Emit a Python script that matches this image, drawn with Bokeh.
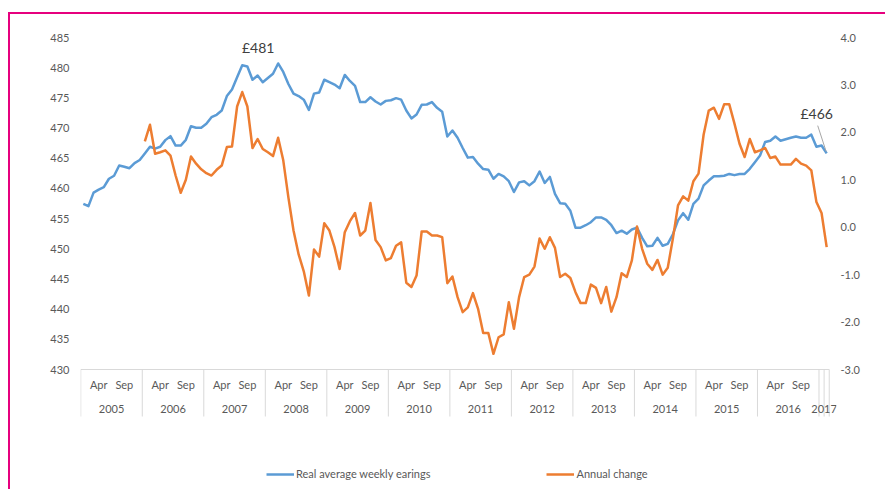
from bokeh.plotting import figure
from bokeh.models import (Range1d, LinearAxis, FixedTicker, NumeralTickFormatter,
                          Legend, LegendItem, Label)
from bokeh.core.properties import value
from bokeh.embed import file_html
from bokeh.resources import INLINE

# ---------------- data ----------------
years = ["2005", "2006", "2007", "2008", "2009", "2010", "2011", "2012",
         "2013", "2014", "2015", "2016", "2017"]
month_labels = ["Apr", "Sep"]          # shown under every full year
month_label_pos = [3, 8]                # month index within a year (Jan = 0)

# Real average weekly earnings (GBP), monthly Jan 2005 - Feb 2017
earnings = [
    457.45, 457.06, 459.3, 459.8, 460.2, 461.6, 462.1, 463.8, 463.6, 463.35, 464.2, 464.7,   # 2005
    465.8, 466.9, 466.6, 466.9, 468.0, 468.65, 467.1, 467.1, 468.05, 470.3, 470.05, 470.05,  # 2006
    470.7, 471.8, 472.2, 472.9, 475.3, 476.4, 478.4, 480.4, 480.2, 478.0, 478.7, 477.6,      # 2007
    478.3, 479.0, 480.7, 479.3, 477.3, 475.7, 475.3, 474.7, 473.0, 475.7, 475.9, 478.0,      # 2008
    477.6, 477.2, 476.6, 478.8, 477.8, 477.0, 474.3, 474.3, 475.1, 474.4, 473.9, 474.5,      # 2009
    474.6, 474.95, 474.7, 472.9, 471.6, 472.25, 473.85, 473.9, 474.3, 473.35, 472.7, 468.6,  # 2010
    469.6, 468.4, 466.7, 465.1, 465.2, 464.1, 463.2, 463.1, 461.6, 462.4, 462.0, 461.2,      # 2011
    459.4, 461.0, 461.2, 460.5, 461.2, 462.8, 460.9, 461.9, 459.1, 457.55, 457.45, 456.3,    # 2012
    453.5, 453.5, 453.9, 454.4, 455.2, 455.2, 454.8, 453.9, 452.6, 453.0, 452.5, 453.2,      # 2013
    453.5, 451.8, 450.4, 450.5, 451.8, 450.5, 450.8, 452.4, 454.7, 455.9, 454.8, 457.45,     # 2014
    458.3, 460.5, 461.3, 462.0, 462.0, 462.1, 462.4, 462.2, 462.4, 462.4, 463.25, 464.35,    # 2015
    465.45, 467.7, 467.9, 468.6, 467.9, 468.15, 468.4, 468.6, 468.4, 468.4, 468.9, 466.9,    # 2016
    467.1, 465.8,                                                                              # 2017
]

# Annual change (%), monthly Jan 2006 - Feb 2017
annual_change = [
    1.81, 2.16, 1.55, 1.58, 1.62, 1.51, 1.09, 0.725, 1.0, 1.49, 1.34, 1.22,           # 2006
    1.14, 1.09, 1.21, 1.30, 1.69, 1.70, 2.545, 2.85, 2.545, 1.67, 1.86, 1.65,         # 2007
    1.58, 1.50, 1.885, 1.41, 0.63, -0.07, -0.575, -0.93, -1.44, -0.47, -0.62, 0.085,  # 2008
    -0.07, -0.42, -0.88, -0.105, 0.127, 0.30, -0.175, -0.07, 0.51, -0.27, -0.42, -0.70,  # 2009
    -0.65, -0.39, -0.32, -1.17, -1.26, -1.02, -0.09, -0.09, -0.175, -0.175, -0.21, -1.18,  # 2010
    -1.04, -1.475, -1.79, -1.69, -1.39, -1.72, -2.23, -2.23, -2.67, -2.32, -2.26, -1.58,  # 2011
    -2.14, -1.475, -1.05, -1.0, -0.83, -0.24, -0.455, -0.21, -0.435, -1.05, -0.98, -1.07,  # 2012
    -1.37, -1.60, -1.60, -1.21, -1.28, -1.60, -1.26, -1.78, -1.475, -0.97, -1.05, -0.70,  # 2013
    0.015, -0.455, -0.77, -0.90, -0.69, -1.00, -0.855, -0.24, 0.46, 0.65, 0.56, 0.97,  # 2014
    1.13, 1.955, 2.46, 2.52, 2.285, 2.59, 2.59, 2.19, 1.76, 1.48, 1.86, 1.58,          # 2015
    1.62, 1.67, 1.46, 1.49, 1.32, 1.32, 1.32, 1.44, 1.34, 1.30, 1.20, 0.53,            # 2016
    0.30, -0.42,                                                                         # 2017
]

left_ticks = [430, 435, 440, 445, 450, 455, 460, 465, 470, 475, 480, 485]
right_ticks = [-3, -2, -1, 0, 1, 2, 3, 4]

series_names = ["Real average weekly earings", "Annual change"]
BLUE = "#5B9BD5"
ORANGE = "#ED7D31"
GREY_TEXT = "#595959"
AXIS_GREY = "#D9D9D9"
FONT = "Lato"

# ---------------- layout constants (pixels) ----------------
SPAN_PX = 332    # distance between lowest and highest value tick
ABOVE_PX = 7     # headroom above the top tick
BELOW_PX = 122   # room under the value axis (category labels + legend)
SEP_PX = 47      # length of category separators
MONTH_PX = 15    # month label centre below axis line
YEAR_PX = 39.5   # year label centre below axis line
CAT_W = 749      # width of the category axis
RIGHT_PAD_PX = 7 # extra frame room right of the category axis (for "2017")

# ---------------- derived positions (month index, Jan 2005 = 0) ----------------
n = len(earnings)
x_earn = list(range(n))
x_change = list(range(n - len(annual_change), n))

full_years = n // 12
month_x = [12 * k + m for k in range(full_years) for m in month_label_pos]
month_text = [lab for k in range(full_years) for lab in month_labels]
year_x = [(12 * k + min(12 * k + 11, n - 1)) / 2.0 for k in range(len(years))]
bounds = [12 * k - 0.5 for k in range(len(years))] + [n - 1.5, n - 0.5]

L0, L1 = left_ticks[0], left_ticks[-1]
R0, R1 = right_ticks[0], right_ticks[-1]
lppx = (L1 - L0) / SPAN_PX       # left units per pixel
rppx = (R1 - R0) / SPAN_PX       # right units per pixel
xppx = (n + 0.1) / CAT_W         # months per pixel
x_start = -0.55
x_end = n - 0.45 + RIGHT_PAD_PX * xppx

p = figure(width=877, height=477, output_backend="svg", toolbar_location=None,
           x_range=Range1d(x_start, x_end),
           y_range=Range1d(L0 - BELOW_PX * lppx, L1 + ABOVE_PX * lppx),
           x_axis_location=None, y_axis_location=None,
           min_border_left=70, min_border_right=58 - RIGHT_PAD_PX, min_border_top=16,
           min_border_bottom=0)
p.extra_y_ranges = {"right": Range1d(R0 - BELOW_PX * rppx, R1 + ABOVE_PX * rppx)}
p.outline_line_color = None
p.background_fill_color = "white"
p.border_fill_color = "white"
p.xgrid.visible = False
p.ygrid.visible = False
p.styles = {"border-left": "2px solid #E6007E", "border-top": "2px solid #E6007E",
            "margin-top": "12px", "margin-left": "8px"}

def style_axis(ax, standoff):
    ax.major_tick_out = 0
    ax.major_tick_in = 0
    ax.minor_tick_out = 0
    ax.minor_tick_in = 0
    ax.axis_line_color = None
    ax.major_label_text_color = GREY_TEXT
    ax.major_label_text_font = FONT
    ax.major_label_text_font_size = "11px"
    ax.major_label_standoff = standoff

ly = LinearAxis(ticker=FixedTicker(ticks=left_ticks))
style_axis(ly, 11)
p.add_layout(ly, "left")

ry = LinearAxis(y_range_name="right", ticker=FixedTicker(ticks=right_ticks),
                formatter=NumeralTickFormatter(format="0.0"))
style_axis(ry, 11 - RIGHT_PAD_PX)
p.add_layout(ry, "right")

# ---- multi-level category axis (months / years) ----
p.segment(x0=[-0.5], y0=[L0], x1=[n - 0.5], y1=[L0], line_color=AXIS_GREY, line_width=1)
p.segment(x0=bounds, y0=[L0] * len(bounds), x1=bounds,
          y1=[L0 - SEP_PX * lppx] * len(bounds), line_color=AXIS_GREY, line_width=1)
p.text(x=month_x, y=[L0 - MONTH_PX * lppx] * len(month_x), text=month_text,
       text_font=value(FONT), text_font_size=value("11px"), text_color=GREY_TEXT,
       text_align="center", text_baseline="middle")
p.text(x=year_x, y=[L0 - YEAR_PX * lppx] * len(year_x), text=years,
       text_font=value(FONT), text_font_size=value("11px"), text_color=GREY_TEXT,
       text_align="center", text_baseline="middle")

r_earn = p.line(x_earn, earnings, line_color=BLUE, line_width=2.5, line_join="round")
r_chg = p.line(x_change, annual_change, line_color=ORANGE, line_width=2.5,
               line_join="round", y_range_name="right")

# callouts
peak_i = max(range(n), key=lambda i: earnings[i])
p.add_layout(Label(x=peak_i, y=earnings[peak_i], x_offset=-20, y_offset=16,
                   text=f"£{round(earnings[peak_i])}", text_align="center",
                   text_baseline="middle", text_font=FONT, text_font_size="14px",
                   text_color="#404040"))
last_i = n - 1
p.add_layout(Label(x=last_i, y=earnings[last_i], x_offset=-10, y_offset=40,
                   text=f"£{round(earnings[last_i])}", text_align="center",
                   text_baseline="middle", text_font=FONT, text_font_size="14px",
                   text_color="#404040"))
p.segment(x0=[last_i - 1.75], y0=[earnings[last_i] + 4.6], x1=[last_i - 0.1],
          y1=[earnings[last_i] + 0.3], line_color="#A6A6A6", line_width=1)

lg = Legend(items=[LegendItem(label=series_names[0], renderers=[r_earn]),
                   LegendItem(label=series_names[1], renderers=[r_chg])],
            location=(186, 11), orientation="horizontal")
lg.border_line_color = None
lg.background_fill_alpha = 0
lg.padding = 0
lg.margin = 0
lg.spacing = 116
lg.glyph_width = 28
lg.glyph_height = 12
lg.label_height = 12
lg.label_standoff = 2
lg.label_text_font = FONT
lg.label_text_font_size = "11px"
lg.label_text_color = GREY_TEXT
p.add_layout(lg)

open("out.html", "w").write(file_html(p, INLINE))
